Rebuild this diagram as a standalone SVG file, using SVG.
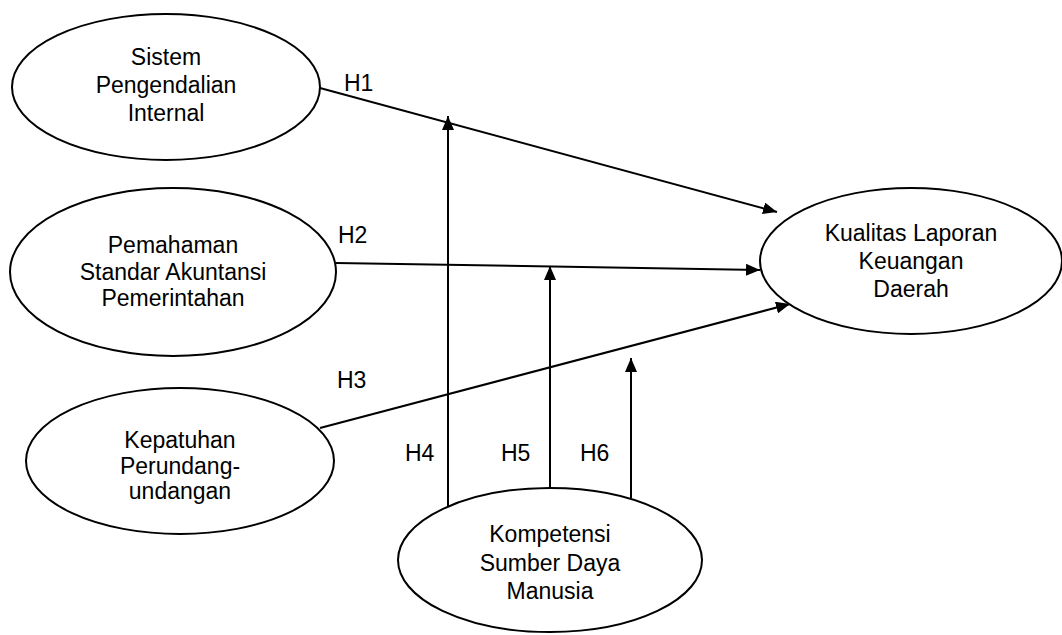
<svg xmlns="http://www.w3.org/2000/svg" width="1062" height="635" viewBox="0 0 1062 635">
<defs>
<marker id="arr" viewBox="0 0 14 12" refX="14" refY="6" markerWidth="14" markerHeight="12" markerUnits="userSpaceOnUse" orient="auto">
<path d="M0,0 L14,6 L0,12 Z" fill="#000"/>
</marker>
</defs>
<style>
.node ellipse{fill:#fff;stroke:#000;stroke-width:2}
text{font-family:"Liberation Sans",Arial,sans-serif;font-size:23px;fill:#000}
.node text{text-anchor:middle}
.conn line{stroke:#000;stroke-width:2;marker-end:url(#arr)}
</style>
<rect width="1062" height="635" fill="#fff"/>
<g class="conn" id="connectors">
<line x1="320" y1="88" x2="777" y2="212"/>
<line x1="336" y1="263" x2="760" y2="270"/>
<line x1="320" y1="428" x2="790" y2="304"/>
<line x1="448" y1="507" x2="448" y2="116"/>
<line x1="550" y1="488" x2="550" y2="266"/>
<line x1="631" y1="498" x2="631" y2="358"/>
</g>
<g id="labels">
<text x="344" y="91">H1</text>
<text x="338" y="243">H2</text>
<text x="337" y="388">H3</text>
<text x="405" y="461">H4</text>
<text x="501" y="461">H5</text>
<text x="580" y="461">H6</text>
</g>
<g class="node" id="n-spi">
<ellipse cx="166" cy="87" rx="154" ry="73"/>
<text x="166" y="65">Sistem</text>
<text x="166" y="93">Pengendalian</text>
<text x="166" y="121">Internal</text>
</g>
<g class="node" id="n-psap">
<ellipse cx="173" cy="272" rx="163" ry="84"/>
<text x="173" y="253">Pemahaman</text>
<text x="173" y="280">Standar Akuntansi</text>
<text x="173" y="306">Pemerintahan</text>
</g>
<g class="node" id="n-kpu">
<ellipse cx="180" cy="461" rx="154" ry="73"/>
<text x="180" y="448">Kepatuhan</text>
<text x="180" y="474">Perundang-</text>
<text x="180" y="499">undangan</text>
</g>
<g class="node" id="n-klkd">
<ellipse cx="911" cy="261" rx="151" ry="73"/>
<text x="911" y="241">Kualitas Laporan</text>
<text x="911" y="269">Keuangan</text>
<text x="911" y="297">Daerah</text>
</g>
<g class="node" id="n-ksdm">
<ellipse cx="550" cy="560" rx="152" ry="72"/>
<text x="550" y="542">Kompetensi</text>
<text x="550" y="571">Sumber Daya</text>
<text x="550" y="599">Manusia</text>
</g>
</svg>
